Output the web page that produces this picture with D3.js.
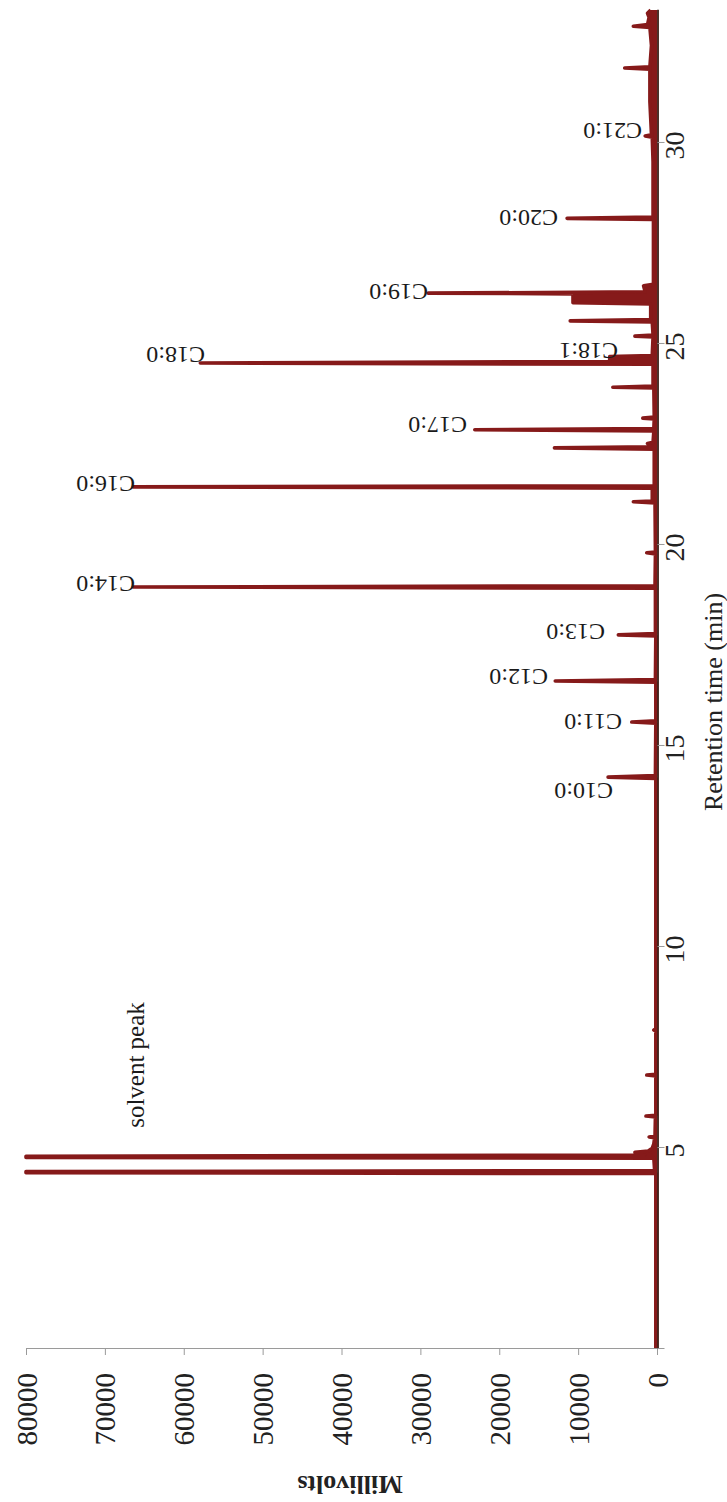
<!DOCTYPE html>
<html><head><meta charset="utf-8">
<script src="https://cdn.jsdelivr.net/npm/d3@7"></script>
<style>
html,body{margin:0;padding:0;background:#fff}
svg{display:block}
text{font-family:"Liberation Serif","Times New Roman",serif}
</style>
</head><body>
<svg id="chart" width="727" height="1502"></svg>
<script>
// ---- data ----
// chromatogram trace vertices: retention time (min) and detector signal (mV)
const traceTime = [0,4.34,4.36,4.39,4.41,4.72,4.74,4.77,4.80,4.85,4.87,4.90,4.97,5.08,5.23,5.25,5.27,5.75,5.77,5.79,6.77,6.79,6.81,7.89,7.91,7.93,
  14.17,14.20,14.24,15.54,15.57,15.60,16.56,16.59,16.63,17.71,17.74,17.77,18.90,18.93,18.96,19.75,19.78,19.80,
  21.02,21.05,21.07,21.39,21.42,21.45,22.36,22.39,22.42,22.50,22.53,22.81,22.84,22.87,23.11,23.13,23.16,23.88,23.90,23.93,
  24.47,24.50,24.54,24.66,24.69,25.15,25.17,25.20,25.52,25.55,25.58,25.97,26.00,26.22,26.24,26.27,26.42,26.46,
  28.07,28.10,28.13,29.50,30.12,30.15,30.18,30.60,31.00,31.81,31.84,31.87,32.40,32.85,32.88,32.92,33.10,33.20,33.28];
const traceMv = [150,150,80000,80000,300,400,80000,80000,1600,1900,2800,1100,600,400,300,1000,250,200,1400,150,150,1300,150,150,400,150,
  150,6200,200,150,3200,150,150,12900,200,150,4900,200,200,66400,250,200,1300,200,
  250,3000,600,600,66400,350,350,13000,600,1200,500,400,23100,400,350,1800,350,400,5600,500,
  500,57900,6000,6000,600,500,2800,500,600,11000,800,800,10650,10650,29000,1500,1700,450,
  450,11400,500,500,600,1500,700,800,900,900,4100,900,700,900,3000,1200,1000,1200,800];

// peak labels and where they sit (data units)
const peakNames = ["C10:0","C11:0","C12:0","C13:0","C14:0","C16:0","C17:0","C18:0","C18:1","C19:0","C20:0","C21:0"];
const labelTime = [13.86,15.57,16.69,17.81,19.00,21.49,22.96,24.70,24.80,26.27,28.11,30.27];
const labelMv   = [5580,4440,13820,6590,66180,66180,24090,57310,4940,29030,12550,1900];

const solventText = "solvent peak";
const solventTime = 4.9;
const solventMv = 65000;

// axes
const mvTicks = [0,10000,20000,30000,40000,50000,60000,70000,80000];
const timeTicks = [0,5,10,15,20,25,30];
const xTitle = "Retention time (min)";
const yTitle = "Millivolts";

// ---- drawing ----
const FONT = "'Liberation Serif','Times New Roman',serif";
const svg = d3.select("#chart");
const col = "#861a1a";

const mv = d3.scaleLinear().domain([0, 80000]).range([657, 26]);
const rt = d3.scaleLinear().domain([0, 33.3]).range([1348, 9.3]);

svg.append("defs").append("clipPath").attr("id","plotclip")
  .append("rect").attr("x",24).attr("y",0).attr("width",640).attr("height",1350);

const pts = traceTime.map((t,i)=>({t, v: traceMv[i]}));

const area = d3.area().x0(mv(0)).x1(d=>mv(d.v)).y(d=>rt(d.t));
const line = d3.line().x(d=>mv(d.v)).y(d=>rt(d.t));

// millivolt axis (bottom, values run right-to-left)
const axMv = svg.append("g").attr("transform","translate(0,1348)")
  .call(d3.axisBottom(mv).tickValues(mvTicks).tickSize(7).tickSizeOuter(0).tickFormat(d3.format("d")))
  .attr("font-family", FONT);
axMv.select(".domain").attr("stroke","#9a9a9a").attr("stroke-width",1);
axMv.selectAll(".tick line").attr("stroke","#9a9a9a");
axMv.selectAll(".tick text")
  .attr("x",0).attr("y",0).attr("dy",0)
  .attr("text-anchor","end")
  .attr("transform","translate(10,25) rotate(-90)")
  .attr("font-size",29).attr("fill","#222")
  .style("font-family", FONT);

const plot = svg.append("g").attr("clip-path","url(#plotclip)");
plot.append("path").datum(pts).attr("d", area).attr("fill", col);
plot.append("path").datum(pts).attr("d", line).attr("fill","none")
  .attr("stroke", col).attr("stroke-width", 3.6).attr("stroke-linejoin","round").attr("stroke-linecap","butt");

// retention-time axis (right side, values run bottom-to-top)
const axRt = svg.append("g").attr("transform","translate(657.5,0)")
  .call(d3.axisRight(rt).tickValues(timeTicks).tickSize(7).tickSizeOuter(0).tickFormat(d=> d===0 ? "" : d))
  .attr("font-family", FONT);
axRt.select(".domain").attr("stroke","#3a1a12").attr("stroke-width",1.8);
axRt.selectAll(".tick line").attr("stroke","#9a9a9a");
axRt.selectAll(".tick text")
  .attr("x",0).attr("y",0).attr("dy",0)
  .attr("text-anchor","middle")
  .attr("transform","translate(26,3) rotate(-90)")
  .attr("font-size",28).attr("fill","#222")
  .style("font-family", FONT);

// axis titles
svg.append("text").text(xTitle)
  .attr("transform","translate(722,702) rotate(-90)")
  .attr("text-anchor","middle").attr("font-size",26).attr("fill","#222");
svg.append("text").text(yTitle)
  .attr("transform","translate(350,1476) rotate(180)")
  .attr("text-anchor","middle").attr("font-size",26).attr("font-weight","bold").attr("fill","#222");

// peak labels
svg.append("g").selectAll("text").data(peakNames).join("text")
  .text(d=>d)
  .attr("transform",(d,i)=>`translate(${mv(labelMv[i])},${rt(labelTime[i]) - 8}) rotate(180)`)
  .attr("text-anchor","start").attr("font-size",24).attr("fill","#1a1a1a");

// solvent peak annotation
svg.append("text").text(solventText)
  .attr("transform",`translate(${mv(solventMv)},${rt(solventTime) - 86}) rotate(-90)`)
  .attr("text-anchor","middle").attr("font-size",25).attr("fill","#1a1a1a");
</script>
</body></html>
